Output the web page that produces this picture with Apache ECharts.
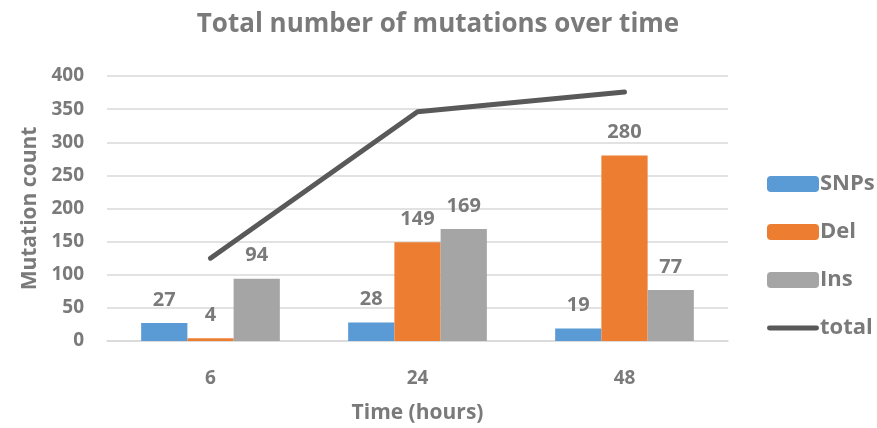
<!DOCTYPE html>
<html>
<head>
<meta charset="utf-8">
<script src="https://cdn.jsdelivr.net/npm/echarts@6/dist/echarts.min.js"></script>
<style>
  html, body { margin: 0; padding: 0; background: #fff; }
  #chart { width: 877px; height: 428px; }
</style>
</head>
<body>
<div id="chart"></div>
<script>
// Mutation counts per time point
const timePoints = ['6', '24', '48'];
const snps = [27, 28, 19];
const del = [4, 149, 280];
const ins = [94, 169, 77];
const total = [125, 346, 376];
const yTicks = [0, 50, 100, 150, 200, 250, 300, 350, 400];

const textGrey = '#7a7a7a';
const font = 'Open Sans';

const chart = echarts.init(document.getElementById('chart'));

const barLabel = {
  show: true,
  position: 'top',
  distance: 13,
  color: textGrey,
  fontFamily: font,
  fontWeight: 'bold',
  fontSize: 20
};

chart.setOption({
  animation: false,
  title: {
    text: 'Total number of mutations over time',
    left: 433,
    textAlign: 'center',
    top: 7,
    textStyle: { color: textGrey, fontFamily: font, fontWeight: 'bold', fontSize: 26 }
  },
  grid: { left: 107, right: 149, top: 76, bottom: 87, containLabel: false, outerBoundsMode: 'none' },
  legend: {
    orient: 'vertical',
    left: 762,
    top: 168,
    itemWidth: 52,
    itemHeight: 16,
    itemGap: 26,
    textStyle: { color: textGrey, fontFamily: font, fontWeight: 'bold', fontSize: 22, padding: [0, 0, 0, -4] },
    data: ['SNPs', 'Del', 'Ins', { name: 'total', icon: 'path://M2,0 L50,0 A2.5,2.5 0 0 1 50,5 L2,5 A2.5,2.5 0 0 1 2,0 Z' }]
  },
  xAxis: {
    type: 'category',
    data: timePoints,
    name: 'Time (hours)',
    nameLocation: 'middle',
    nameGap: 62,
    nameTextStyle: { color: textGrey, fontFamily: font, fontWeight: 'bold', fontSize: 21 },
    axisLine: { lineStyle: { color: '#d9d9d9', width: 1.5 } },
    axisTick: { show: false },
    axisLabel: { color: textGrey, fontFamily: font, fontWeight: 'bold', fontSize: 19, margin: 28 }
  },
  yAxis: {
    type: 'value',
    min: yTicks[0],
    max: yTicks[yTicks.length - 1],
    interval: yTicks[1] - yTicks[0],
    name: 'Mutation count',
    nameLocation: 'middle',
    nameGap: 66,
    nameTextStyle: { color: textGrey, fontFamily: font, fontWeight: 'bold', fontSize: 21 },
    axisLine: { show: false },
    axisTick: { show: false },
    axisLabel: { color: textGrey, fontFamily: font, fontWeight: 'bold', fontSize: 19, margin: 23 },
    splitLine: { lineStyle: { color: '#d9d9d9', width: 1.5 } }
  },
  series: [
    { name: 'SNPs', type: 'bar', data: snps, barGap: '0%', barCategoryGap: '33%',
      itemStyle: { color: '#5b9bd5' }, label: barLabel },
    { name: 'Del', type: 'bar', data: del, barGap: '0%', barCategoryGap: '33%',
      itemStyle: { color: '#ed7d31' }, label: barLabel },
    { name: 'Ins', type: 'bar', data: ins, barGap: '0%', barCategoryGap: '33%',
      itemStyle: { color: '#a5a5a5' }, label: barLabel },
    { name: 'total', type: 'line', data: total, symbol: 'none',
      lineStyle: { color: '#595959', width: 5, cap: 'round' },
      itemStyle: { color: '#595959' } }
  ]
});
</script>
</body>
</html>
